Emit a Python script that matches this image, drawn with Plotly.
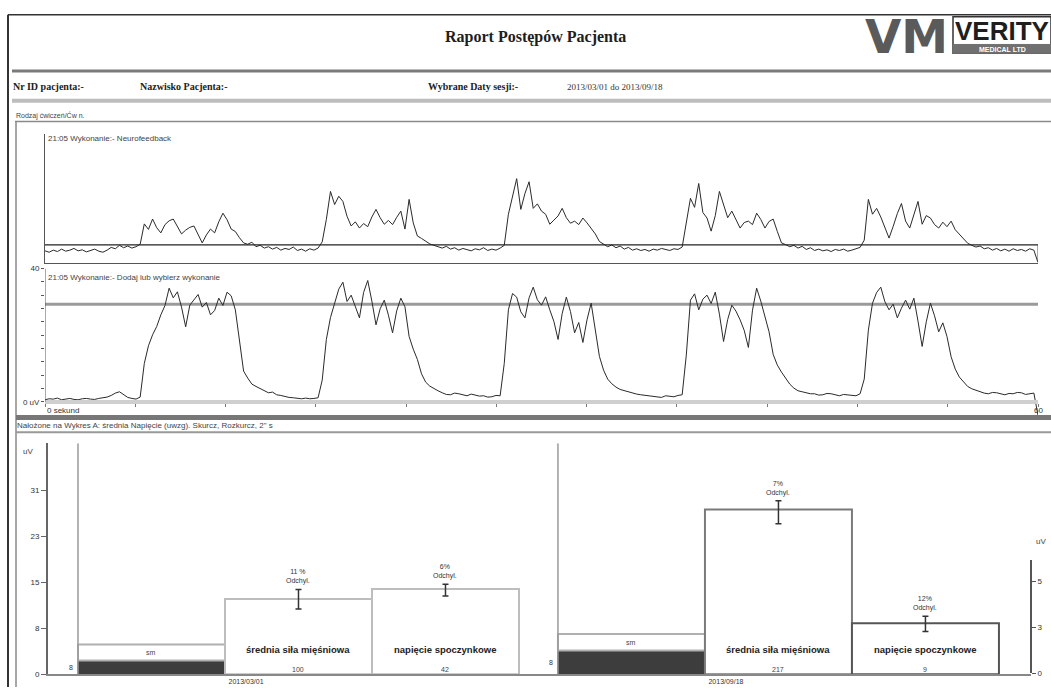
import numpy as np
import plotly.graph_objects as go

W, H = 1051, 692


def PX(x):
    return x / W


def PY(y):
    return 1 - y / H


# ------------------------------------------------------------------ data
SAMPLE_STEP_S = 0.25

# Trace A: "21:05 Wykonanie:- Neurofeedback" (uV), one value per 0.25 s, 0..60 s
trace_a_uv = [
    3.4, 3.0, 3.6, 3.2, 3.9, 3.3, 3.6, 4.1, 3.4, 3.7, 3.1, 3.5, 3.9, 3.3, 3.0, 3.6, 4.4, 4.0, 5.0, 4.3, 4.8, 4.2, 4.6, 5.3,
    11.2, 9.6, 12.6, 10.1, 8.6, 11.0, 12.1, 12.6, 10.4, 8.3, 9.4, 10.2, 10.6, 8.1, 5.7, 8.0, 9.7, 8.6, 11.8, 14.3, 12.4, 9.7, 9.0, 7.2,
    5.7, 5.3, 5.9, 4.6, 5.0, 4.2, 4.6, 3.9, 4.4, 3.6, 4.1, 3.8, 4.5, 3.5, 3.9, 3.3, 4.0, 3.6, 4.2, 6.0,
    12.5, 20.6, 16.8, 19.2, 17.7, 13.4, 10.6, 11.8, 10.0, 11.3, 10.4, 13.2, 15.4, 13.0, 11.1, 12.2, 11.0, 13.1, 14.9, 9.7, 18.3, 11.5, 7.7, 7.0, 6.2, 5.4,
    5.0, 4.6, 4.2, 4.7, 3.9, 4.3, 3.6, 4.1, 3.8, 3.4, 4.0, 3.7, 4.3, 3.5, 3.9, 3.6, 4.2, 5.0,
    14.0, 19.5, 24.3, 15.4, 20.0, 23.4, 15.7, 17.0, 14.9, 14.0, 11.1, 12.3, 13.5, 15.7, 13.0, 11.4, 12.0, 11.0, 12.9, 11.5, 9.8, 8.3, 6.1, 5.4,
    4.6, 5.1, 4.3, 4.8, 3.9, 4.4, 3.6, 4.0, 3.5, 3.8, 3.3, 3.9, 3.6, 4.1, 3.7, 3.5, 4.0, 3.8, 4.5,
    11.0, 18.6, 16.0, 22.9, 14.5, 12.9, 9.1, 13.6, 20.6, 17.0, 13.0, 14.9, 12.2, 10.0, 11.6, 12.0, 11.0, 14.3, 12.5, 10.0, 11.9, 12.6, 9.0, 5.7,
    5.2, 4.6, 5.0, 4.2, 4.7, 3.8, 4.3, 3.5, 3.9, 3.4, 3.7, 3.2, 3.8, 3.5, 3.9, 3.3, 3.6, 4.0, 4.4,
    6.5, 18.3, 14.0, 15.7, 13.2, 10.0, 7.1, 10.5, 14.2, 17.1, 12.0, 10.0, 14.0, 17.7, 11.1, 13.6, 12.9, 11.0, 10.0, 11.7, 10.4, 12.0, 9.5, 8.3, 7.0, 5.6,
    5.0, 4.5, 4.8, 4.0, 4.3, 3.6, 4.1, 3.4, 3.9, 3.3, 4.0, 3.5, 3.8, 3.3, 4.0, 3.6, 0.0,
]

# Trace B: "21:05 Wykonanie:- Dodaj lub wybierz wykonanie" (uV), 0.25 s steps
trace_b_uv = [
    0.6, 0.9, 0.8, 1.1, 0.6, 0.8, 1.0, 0.7, 0.6, 0.9, 1.0, 0.8, 0.7, 1.0, 1.1, 1.4, 1.9, 2.6, 3.0, 2.2, 1.3, 1.0, 0.8, 1.4,
    11.5, 16.8, 20.1, 22.6, 26.1, 28.9, 34.1, 31.2, 33.0, 28.4, 22.5, 29.0, 30.5, 32.2, 28.4, 29.8, 26.1, 27.4, 31.1, 28.9, 32.9, 31.8, 27.6, 18.0,
    9.2, 7.1, 5.3, 4.6, 3.9, 3.2, 2.7, 2.9, 2.1, 1.9, 1.5, 1.3, 1.2, 1.0, 0.9, 1.1, 0.9, 1.0, 1.2, 6.5,
    18.7, 25.3, 29.6, 33.8, 35.9, 30.1, 32.0, 28.7, 25.2, 32.8, 36.4, 30.2, 23.1, 27.9, 30.5, 26.0, 20.7, 27.3, 31.1, 28.5,
    19.6, 15.8, 12.7, 8.4, 5.9, 4.7, 3.9, 3.3, 2.7, 2.2, 2.1, 2.6, 2.4, 2.0, 1.8, 2.3, 2.1, 1.7, 1.8, 1.4, 1.5, 1.9, 1.8, 11.5,
    27.6, 32.5, 31.4, 27.0, 25.2, 31.2, 34.4, 30.6, 29.0, 31.5, 27.6, 24.1, 18.7, 26.5, 31.4, 27.1, 20.7, 23.8, 17.8, 24.6, 29.6, 22.0, 13.6, 9.5,
    6.8, 5.4, 4.4, 3.7, 3.3, 2.9, 2.7, 2.3, 2.1, 1.9, 1.8, 1.5, 1.5, 1.3, 1.8, 1.6, 1.5, 1.9, 2.1, 14.0,
    30.5, 32.4, 27.6, 30.8, 32.0, 29.5, 32.9, 26.3, 18.1, 24.7, 29.0, 27.2, 24.6, 21.4, 16.3, 27.5, 34.1, 30.2, 25.2, 21.0, 14.2, 11.0,
    8.9, 6.9, 5.3, 4.1, 3.3, 3.0, 2.7, 2.4, 2.4, 2.0, 2.1, 2.5, 2.4, 2.0, 1.8, 2.2, 2.1, 1.9, 1.8, 2.4, 6.8, 21.5,
    29.6, 32.8, 34.4, 30.0, 27.6, 29.3, 25.2, 28.1, 30.5, 27.8, 31.1, 24.2, 16.6, 24.0, 29.6, 25.8, 21.0, 23.7, 19.6, 13.5,
    9.8, 7.4, 5.9, 4.6, 3.9, 3.4, 3.0, 2.6, 2.4, 2.8, 2.7, 2.3, 2.1, 2.5, 2.4, 2.8, 2.7, 2.2, 2.4, 2.6, -4.1,
]

threshold_a_uv = 5.1
threshold_b_uv = 29.3

# Bar section
bar_dates = ["2013/03/01", "2013/09/18"]
bar_names = ["średnia siła mięśniowa", "napięcie spoczynkowe"]
dark_vals = [2.3, 4.0]
box_vals = [2.7, 2.8]
box_labels = ["sm", "sm"]
dark_labels = ["8", "8"]
srednia_vals = [12.7, 27.8]
srednia_err_plus = [1.6, 1.5]
srednia_err_minus = [1.7, 2.4]
srednia_dev = ["11 %", "7%"]
srednia_counts = ["100", "217"]
napiecie_vals = [14.4, 8.6]
napiecie_err_plus = [0.8, 1.2]
napiecie_err_minus = [1.2, 1.4]
napiecie_dev = ["6%", "12%"]
napiecie_counts = ["42", "9"]

left_ticks = [0, 7.75, 15.5, 23.25, 31]
left_tick_text = ["0", "8", "15", "23", "31"]
right_ticks = [0, 2.5, 5]
right_tick_text = ["0", "3", "5"]
emg_y_ticks = [0, 4, 8, 12, 16, 20, 24, 28, 32, 36, 40]
emg_y_tick_text = ["0 uV", "", "", "", "", "", "", "", "", "", "40"]

# ------------------------------------------------------------------ figure
t_a = np.arange(len(trace_a_uv)) * SAMPLE_STEP_S
t_b = np.arange(len(trace_b_uv)) * SAMPLE_STEP_S

fig = go.Figure()

fig.add_trace(go.Scatter(x=t_a, y=trace_a_uv, mode="lines",
                         line=dict(color="#2a2a2a", width=1),
                         xaxis="x", yaxis="y", hoverinfo="skip", showlegend=False))
fig.add_trace(go.Scatter(x=t_b, y=trace_b_uv, mode="lines",
                         line=dict(color="#2a2a2a", width=1),
                         xaxis="x2", yaxis="y2", hoverinfo="skip", showlegend=False))

group_x = [1.0, 4.265]
dark_x = list(group_x)
sred_x = [g + 1 for g in group_x]
nap_x = [g + 2 for g in group_x]

fig.add_trace(go.Bar(x=dark_x, y=dark_vals, width=1,
                     marker=dict(color="#3d3d3d", line=dict(color="#3d3d3d", width=1)),
                     xaxis="x3", yaxis="y3", showlegend=False, hoverinfo="skip"))
fig.add_trace(go.Bar(x=dark_x, y=box_vals, base=dark_vals, width=1,
                     marker=dict(color="white", line=dict(color="#b0b0b0", width=2)),
                     xaxis="x3", yaxis="y3", showlegend=False, hoverinfo="skip"))
fig.add_trace(go.Bar(x=sred_x, y=srednia_vals, width=1,
                     marker=dict(color="white", line=dict(color=["#bdbdbd", "#7a7a7a"], width=2)),
                     error_y=dict(type="data", symmetric=False, array=srednia_err_plus,
                                  arrayminus=srednia_err_minus, color="#333", thickness=1.5, width=3),
                     xaxis="x3", yaxis="y3", showlegend=False, hoverinfo="skip"))
fig.add_trace(go.Bar(x=nap_x, y=napiecie_vals, width=1,
                     marker=dict(color="white", line=dict(color=["#bdbdbd", "#555555"], width=2)),
                     error_y=dict(type="data", symmetric=False, array=napiecie_err_plus,
                                  arrayminus=napiecie_err_minus, color="#333", thickness=1.5, width=3),
                     xaxis="x3", yaxis="y3", showlegend=False, hoverinfo="skip"))
# carrier for the right-hand axis
fig.add_trace(go.Scatter(x=[], y=[], xaxis="x3", yaxis="y4", showlegend=False, hoverinfo="skip"))

# ------------------------------------------------------------------ shapes
shapes = []


def pline(x0, y0, x1, y1, color, width):
    shapes.append(dict(type="line", xref="paper", yref="paper",
                       x0=PX(x0), y0=PY(y0), x1=PX(x1), y1=PY(y1),
                       line=dict(color=color, width=width)))


def prect(x0, y0, x1, y1, fill, color, width):
    shapes.append(dict(type="rect", xref="paper", yref="paper",
                       x0=PX(x0), y0=PY(y0), x1=PX(x1), y1=PY(y1),
                       fillcolor=fill, line=dict(color=color, width=width)))


# page frame
pline(8, 11, 8, 692, "#333333", 2)
pline(8, 11, 1051, 11, "#333333", 1.5)
pline(12, 68, 1051, 68, "#7a7a7a", 3)
pline(12, 98, 1051, 98, "#bdbdbd", 4)
pline(15, 119, 1051, 119, "#8a8a8a", 1.5)
pline(16, 119, 16, 692, "#8a8a8a", 1.5)
pline(16, 419, 1051, 419, "#777777", 5)
pline(16, 434, 1051, 434, "#999999", 2)

# logo
prect(953, 13, 1051, 50, "white", "#333333", 1.5)
prect(953, 41, 1051, 50, "#707070", "#707070", 1)

# EMG panel helper lines (data coordinates)
shapes.append(dict(type="line", xref="x", yref="y", x0=0, x1=60,
                   y0=threshold_a_uv, y1=threshold_a_uv, line=dict(color="#222222", width=1.3)))
shapes.append(dict(type="line", xref="x", yref="y", x0=60, x1=60,
                   y0=0, y1=threshold_a_uv, line=dict(color="#555555", width=1)))
shapes.append(dict(type="line", xref="x2", yref="y2", x0=0, x1=60, layer="below",
                   y0=threshold_b_uv, y1=threshold_b_uv, line=dict(color="#9a9a9a", width=3)))
shapes.append(dict(type="line", xref="x2", yref="y2", x0=0, x1=0,
                   y0=0, y1=40, line=dict(color="#555555", width=1)))

# group separators in bar chart
for g in group_x:
    shapes.append(dict(type="line", xref="x3", yref="y3", x0=g - 0.5, x1=g - 0.5,
                       y0=0, y1=39, line=dict(color="#9a9a9a", width=1.5)))

# ------------------------------------------------------------------ annotations
anns = []
SANS = "Liberation Sans, Arial, sans-serif"
SERIF = "Liberation Serif, Times New Roman, serif"


def ptext(text, x, y, size, xanchor="left", family=SANS, color="#333333", bold=False):
    anns.append(dict(text=("<b>%s</b>" % text) if bold else text, xref="paper", yref="paper",
                     x=PX(x), y=PY(y), xanchor=xanchor, yanchor="middle", showarrow=False,
                     font=dict(family=family, size=size, color=color)))


ptext("Raport Postępów Pacjenta", 535, 33, 16, "center", SERIF, "#1e1e1e", True)
ptext("VM", 906, 33, 47, "center", "DejaVu Sans, sans-serif", "#5a5a5a", True)
ptext("VERITY", 1002, 27, 26, "center", "Liberation Sans, Arial", "#1e1e1e", True)
ptext("MEDICAL LTD", 1002, 46, 7, "center", SANS, "white", True)

ptext("Nr ID pacjenta:-", 11, 84, 10, "left", SERIF, "#222", True)
ptext("Nazwisko Pacjenta:-", 138, 84, 10, "left", SERIF, "#222", True)
ptext("Wybrane Daty sesji:-", 426, 84, 10, "left", SERIF, "#222", True)
ptext("2013/03/01 do 2013/09/18", 565, 84, 9, "left", SERIF, "#333")

ptext("Rodzaj ćwiczeń/Ćw n.", 14, 113, 7, "left", SANS, "#444")
ptext("21:05 Wykonanie:- Neurofeedback", 46, 136, 8, "left", SANS, "#444")
ptext("21:05 Wykonanie:- Dodaj lub wybierz wykonanie", 46, 277, 8, "left", SANS, "#444")
ptext("Nałożone na Wykres A: średnia Napięcie (uwzg). Skurcz, Rozkurcz, 2\" s", 15, 427, 8, "left", SANS, "#444")
ptext("uV", 28, 453, 8, "center", SANS, "#444")
ptext("uV", 1041, 545, 8, "center", SANS, "#444")

anns.append(dict(text="0 sekund", xref="x2", yref="paper", x=0, y=PY(412), xanchor="left",
                 yanchor="middle", showarrow=False, font=dict(family=SANS, size=8, color="#333")))
anns.append(dict(text="60", xref="x2", yref="paper", x=60, y=PY(412), xanchor="center",
                 yanchor="middle", showarrow=False, font=dict(family=SANS, size=8, color="#333")))


def dtext(text, x, y, size, yanchor="middle", bold=False, yshift=0, xanchor="center", color="#222"):
    anns.append(dict(text=("<b>%s</b>" % text) if bold else text, xref="x3", yref="y3",
                     x=x, y=y, xanchor=xanchor, yanchor=yanchor, yshift=yshift, showarrow=False,
                     font=dict(family=SANS, size=size, color=color)))


for i in range(len(group_x)):
    dtext(bar_names[0], sred_x[i], 4.1, 9.5, bold=True)
    dtext(bar_names[1], nap_x[i], 4.1, 9.5, bold=True)
    dtext(srednia_counts[i], sred_x[i], 0.8, 7, color="#444")
    dtext(napiecie_counts[i], nap_x[i], 0.8, 7, color="#444")
    dtext(srednia_dev[i] + "<br>Odchyl.", sred_x[i], srednia_vals[i] + srednia_err_plus[i],
          7, yanchor="bottom", yshift=2, color="#333")
    dtext(napiecie_dev[i] + "<br>Odchyl.", nap_x[i], napiecie_vals[i] + napiecie_err_plus[i],
          7, yanchor="bottom", yshift=2, color="#333")
    dtext(box_labels[i], dark_x[i], dark_vals[i] + box_vals[i] / 2, 7, color="#444")
    dtext(dark_labels[i], group_x[i] - 0.52, dark_vals[i] / 2, 7, xanchor="right", color="#333")

# ------------------------------------------------------------------ layout
axis_common = dict(showgrid=False, zeroline=False, fixedrange=True)

fig.update_layout(
    width=W, height=H,
    margin=dict(l=0, r=0, t=0, b=0),
    paper_bgcolor="white", plot_bgcolor="rgba(0,0,0,0)",
    barmode="overlay", showlegend=False,
    font=dict(family=SANS, size=8, color="#333"),
    shapes=shapes, annotations=anns,
    xaxis=dict(domain=[PX(45), PX(1038)], range=[0, 60], anchor="y", showline=True,
               linecolor="#555", linewidth=1, showticklabels=False, ticks="", **axis_common),
    yaxis=dict(domain=[PY(262), PY(132)], range=[0, 37.14], anchor="x", showline=True,
               linecolor="#555", linewidth=1, showticklabels=False, ticks="", **axis_common),
    xaxis2=dict(domain=[PX(45), PX(1038)], range=[0, 60], anchor="free", position=PY(403),
                showline=True, linecolor="#cfcfcf", linewidth=4, ticks="outside", ticklen=3,
                tickcolor="#777", tickvals=[60 * k / 11 for k in range(12)],
                showticklabels=False, **axis_common),
    yaxis2=dict(domain=[PY(418.2), PY(268)], range=[-4.5, 40], anchor="x2", showline=False,
                ticks="outside", ticklen=3, tickcolor="#555", tickvals=emg_y_ticks,
                ticktext=emg_y_tick_text, tickfont=dict(size=8, color="#333"), **axis_common),
    xaxis3=dict(domain=[PX(48), PX(1031)], range=[0.296, 6.983], anchor="y3", showline=True,
                linecolor="#888", linewidth=1.5, ticks="",
                tickvals=[g + 0.643 for g in group_x], ticktext=bar_dates,
                tickfont=dict(size=7, color="#333"), **axis_common),
    yaxis3=dict(domain=[PY(679), PY(445)], range=[0, 39], anchor="x3", showline=True,
                linecolor="#666", linewidth=2, ticks="outside", ticklen=5, tickcolor="#666",
                tickvals=left_ticks, ticktext=left_tick_text,
                tickfont=dict(size=8, color="#333"), **axis_common),
    yaxis4=dict(domain=[PY(678), PY(563)], range=[0, 6.2], anchor="free", position=PX(1031),
                side="right", showline=True, linecolor="#555", linewidth=2, ticks="outside",
                ticklen=4, tickcolor="#555", tickvals=right_ticks, ticktext=right_tick_text,
                tickfont=dict(size=8, color="#333"), **axis_common),
)

fig.write_html("out.html", config={"displayModeBar": False},
               post_script="document.body.style.margin='0px';document.body.style.overflow='hidden';")
